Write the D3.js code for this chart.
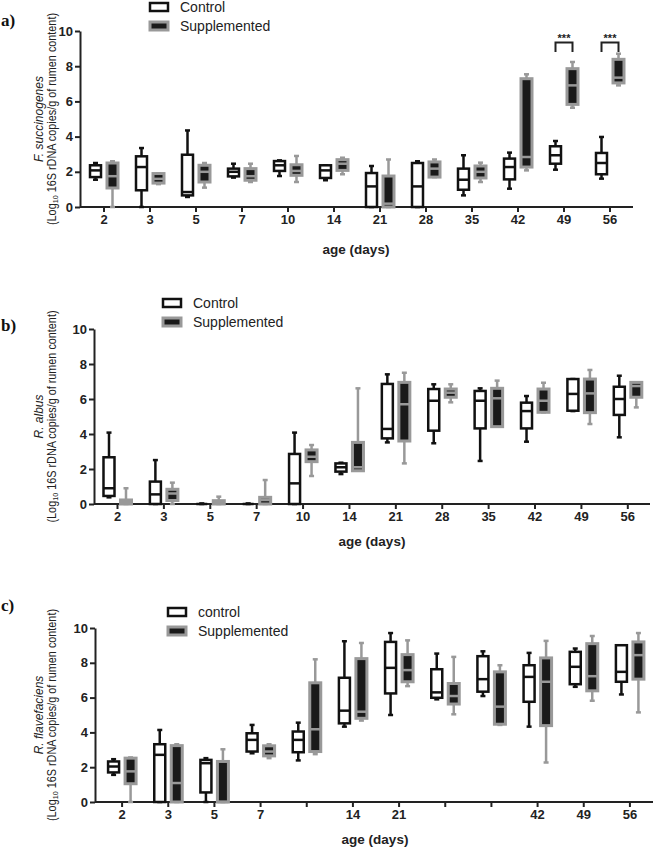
<!DOCTYPE html>
<html><head><meta charset="utf-8">
<script src="https://cdn.jsdelivr.net/npm/d3@7"></script>
<style>body{margin:0;background:#fff}svg{display:block}</style>
</head><body>
<svg id="chart" width="653" height="848"></svg>
<script>
const days = ["2","3","5","7","10","14","21","28","35","42","49","56"];
const tickLabelsAB = ["2","3","5","7","10","14","21","28","35","42","49","56"];
const tickLabelsC = ["2","3","5","7","","14","21","","","42","49","56"];
const yTicks = [0,2,4,6,8,10];
// [min, q1, median, q3, max]
const fsControl = [[1.55,1.7,2.08,2.37,2.5],[0,0.95,2.27,2.88,3.35],[0.57,0.66,0.85,2.97,4.35],[1.67,1.74,2.0,2.18,2.46],[1.76,2.05,2.37,2.61,2.65],[1.52,1.65,2.08,2.37,2.37],[0,0,1.17,1.93,2.33],[0,0,1.17,2.5,2.6],[0.66,0.98,1.55,2.18,2.94],[1.04,1.57,2.27,2.75,3.09],[2.12,2.46,2.94,3.45,3.75],[1.61,1.86,2.5,3.07,3.98]];
const fsSupp = [[0,1.08,1.75,2.5,2.6],[1.3,1.36,1.6,1.9,1.9],[1.1,1.42,2.0,2.37,2.5],[1.42,1.52,1.75,2.18,2.46],[1.42,1.8,2.05,2.4,2.9],[1.86,2.08,2.46,2.69,2.8],[0,0,0.19,1.76,2.7],[1.7,1.7,2.18,2.56,2.7],[1.42,1.65,2.0,2.33,2.52],[2.08,2.27,2.84,7.29,7.54],[5.64,5.83,6.91,7.86,8.24],[6.91,7.05,7.35,8.39,8.71]];
const raControl = [[0.38,0.46,0.9,2.67,4.08],[0,0,0.55,1.28,2.51],[0,0,0,0,0.03],[0,0,0,0,0.03],[0,0,1.18,2.86,4.08],[1.71,1.85,2.1,2.32,2.36],[3.52,3.75,4.29,6.86,7.41],[3.47,4.19,5.9,6.57,6.84],[2.46,4.32,5.9,6.46,6.61],[3.56,4.32,5.31,5.79,6.17],[5.31,5.33,6.29,7.14,7.14],[3.81,5.09,6.0,6.7,7.33]];
const raSupp = [[0,0,0.13,0.23,0.9],[0,0.2,0.6,0.84,1.22],[0,0,0.08,0.19,0.42],[0,0,0.23,0.38,1.37],[1.6,2.42,2.7,3.09,3.37],[1.9,1.9,2.1,3.52,6.61],[2.32,3.6,5.7,6.95,7.5],[5.81,6.1,6.36,6.57,6.84],[4.42,4.42,6.04,6.61,7.05],[5.24,5.24,5.9,6.57,6.93],[4.57,5.22,6.32,7.14,7.66],[5.52,6.1,6.74,6.95,6.95]];
const rfControl = [[1.56,1.7,2.04,2.33,2.46],[0,0,2.71,3.32,4.14],[0,0.55,2.23,2.42,2.52],[2.8,2.9,3.57,3.95,4.43],[2.39,2.86,3.57,4.05,4.56],[4.33,4.52,5.25,7.14,9.24],[5.0,6.24,7.71,9.2,9.71],[5.9,5.99,6.3,7.63,8.53],[6.09,6.34,7.06,8.38,8.66],[4.33,5.76,7.19,7.86,8.57],[6.62,6.77,7.77,8.63,8.82],[6.18,6.91,7.48,9.01,9.01]];
const rfSupp = [[0,1.05,1.76,2.52,2.56],[0,0,1.09,3.24,3.32],[0,0,0,2.33,3.03],[2.52,2.65,2.9,3.23,3.32],[2.75,2.9,4.18,6.85,8.2],[4.68,4.81,5.19,8.24,9.14],[6.66,6.91,7.58,8.47,9.29],[5.04,5.63,6.09,6.81,8.34],[4.43,4.47,5.48,7.48,7.86],[2.27,4.39,6.91,8.28,9.26],[5.82,6.39,7.23,9.1,9.54],[5.15,7.06,8.44,9.2,9.71]];
const sigA = [{day:"49", top:9.34, bottom:8.8, label:"***"},{day:"56", top:9.34, bottom:8.8, label:"***"}];

const GREY = "#999";
const svg = d3.select("#chart");

const panels = [
  {letter:"a)", species:"F. succinogenes", ctrlName:"Control", control:fsControl, supp:fsSupp, ticks:tickLabelsAB, sig:sigA,
   left:80, right:633, top:31, bottom:207, band:[81,633], legX:149, legY:7, letterY:26, xTitleY:254, xTitleX:356},
  {letter:"b)", species:"R. albus", ctrlName:"Control", control:raControl, supp:raSupp, ticks:tickLabelsAB, sig:[],
   left:94, right:650, top:329, bottom:504, band:[94.3,651], legX:162, legY:303, letterY:331, xTitleY:546, xTitleX:372},
  {letter:"c)", species:"R. flavefaciens", ctrlName:"control", control:rfControl, supp:rfSupp, ticks:tickLabelsC, sig:[],
   left:95, right:653, top:628, bottom:802, band:[99,653], legX:167, legY:612, letterY:611, xTitleY:844, xTitleX:375}
];

panels.forEach(p => {
  const g = svg.append("g");
  const x = d3.scaleBand().domain(days).range(p.band).padding(0);
  const y = d3.scaleLinear().domain([0,10]).range([p.bottom, p.top]);
  const cx = d => x(d) + x.bandwidth()/2;

  // axes
  const yAx = g.append("g").attr("transform",`translate(${p.left},0)`)
    .call(d3.axisLeft(y).tickValues(yTicks).tickSize(5).tickPadding(2).tickSizeOuter(0));
  const xAx = g.append("g").attr("transform",`translate(0,${p.bottom})`)
    .call(d3.axisBottom(x).tickFormat((d,i)=>p.ticks[i]).tickSize(5).tickPadding(3).tickSizeOuter(0));
  xAx.select(".domain").remove();
  xAx.append("line").attr("x1",p.left).attr("x2",p.right).attr("y1",0).attr("y2",0)
    .attr("stroke","#222").attr("stroke-width",2);
  [yAx,xAx].forEach(a=>{
    a.selectAll("path.domain").attr("stroke","#222").attr("stroke-width",2);
    a.selectAll(".tick line").attr("stroke","#222").attr("stroke-width",2);
    a.selectAll("text").attr("font-family","Liberation Sans, Arial, sans-serif")
      .attr("font-weight","bold").attr("font-size",13).attr("fill","#222");
  });

  // boxes
  const groups = [
    {data:p.control, off:-8.5, stroke:"#111", fill:"#fff", med:"#111", sw:2.5},
    {data:p.supp, off:8.5, stroke:GREY, fill:"#1a1a1a", med:GREY, sw:3}
  ];
  groups.forEach(gr => {
    const bw = 11, cap = 5;
    const bx = g.append("g").selectAll("g").data(gr.data.map((v,i)=>({v, day:days[i]}))).join("g");
    bx.each(function(d){
      const s = d3.select(this);
      const c = cx(d.day) + gr.off;
      const [mn,q1,md,q3,mx] = d.v;
      s.append("line").attr("x1",c).attr("x2",c).attr("y1",y(mx)).attr("y2",y(q3)).attr("stroke",gr.stroke).attr("stroke-width",2.5);
      s.append("line").attr("x1",c).attr("x2",c).attr("y1",y(q1)).attr("y2",y(mn)).attr("stroke",gr.stroke).attr("stroke-width",2.5);
      s.append("line").attr("x1",c-cap/2).attr("x2",c+cap/2).attr("y1",y(mx)).attr("y2",y(mx)).attr("stroke",gr.stroke).attr("stroke-width",2.5);
      s.append("line").attr("x1",c-cap/2).attr("x2",c+cap/2).attr("y1",y(mn)).attr("y2",y(mn)).attr("stroke",gr.stroke).attr("stroke-width",2.5);
      s.append("rect").attr("x",c-bw/2).attr("width",bw).attr("y",y(q3)).attr("height",Math.max(0,y(q1)-y(q3)))
        .attr("fill",gr.fill).attr("stroke",gr.stroke).attr("stroke-width",gr.sw);
      s.append("line").attr("x1",c-bw/2).attr("x2",c+bw/2).attr("y1",y(md)).attr("y2",y(md)).attr("stroke",gr.med).attr("stroke-width",2.5);
    });
  });

  // significance
  p.sig.forEach(s => {
    const c1 = cx(s.day) - 8.5, c2 = cx(s.day) + 8.5;
    g.append("path").attr("d",`M${c1},${y(s.bottom)}V${y(s.top)}H${c2}V${y(s.bottom)}`)
      .attr("fill","none").attr("stroke","#222").attr("stroke-width",2);
    g.append("text").attr("x",(c1+c2)/2).attr("y",y(s.top)-1).attr("text-anchor","middle")
      .attr("font-family","Liberation Sans, Arial, sans-serif").attr("font-size",11).attr("font-weight","bold").attr("fill","#222").text(s.label);
  });

  // legend
  const L = g.append("g").attr("transform",`translate(${p.legX},${p.legY})`);
  L.append("rect").attr("x",1).attr("y",-4).attr("width",18).attr("height",8).attr("fill","#fff").attr("stroke","#111").attr("stroke-width",2.5);
  L.append("rect").attr("x",1).attr("y",15).attr("width",18).attr("height",8).attr("fill","#1a1a1a").attr("stroke",GREY).attr("stroke-width",3);
  L.append("text").attr("x",31).attr("y",5).attr("font-family","Liberation Sans, Arial, sans-serif").attr("font-size",14).attr("fill","#222").text(p.ctrlName);
  L.append("text").attr("x",31).attr("y",24).attr("font-family","Liberation Sans, Arial, sans-serif").attr("font-size",14).attr("fill","#222").text("Supplemented");

  // panel letter
  g.append("text").attr("x",1).attr("y",p.letterY).attr("font-family","Liberation Serif, Times New Roman, serif")
    .attr("font-weight","bold").attr("font-size",17).attr("fill","#111").text(p.letter);

  // x title
  g.append("text").attr("x",p.xTitleX).attr("y",p.xTitleY).attr("text-anchor","middle")
    .attr("font-family","Liberation Sans, Arial, sans-serif").attr("font-weight","bold").attr("font-size",13.5).attr("fill","#222").text("age (days)");

  // y title
  const cy = (p.top + p.bottom)/2;
  const yt = g.append("g").attr("transform",`translate(0,${cy}) rotate(-90)`)
    .attr("font-family","Liberation Sans, Arial, sans-serif").attr("font-size",12).attr("fill","#222").attr("text-anchor","middle");
  yt.append("text").attr("x",0).attr("y",43).attr("font-style","italic").text(p.species);
  const t2 = yt.append("text").attr("x",0).attr("y",56).attr("textLength",212).attr("lengthAdjust","spacingAndGlyphs");
  t2.append("tspan").text("(Log");
  t2.append("tspan").attr("font-size",8).attr("dy",2).text("10");
  t2.append("tspan").attr("dy",-2).text(" 16S rDNA copies/g of rumen content)");
});
</script>
</body></html>
